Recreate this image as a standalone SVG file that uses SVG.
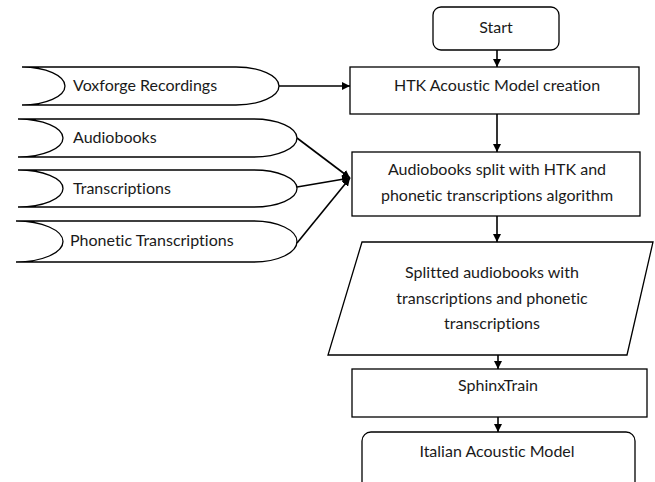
<svg xmlns="http://www.w3.org/2000/svg" width="655" height="482" viewBox="0 0 655 482">
<defs>
<style>
.s{fill:#fff;stroke:#000;stroke-width:1.3}
.t{font-family:Lato,"Liberation Sans",sans-serif;font-size:16px;fill:#1a1a1a;font-variant-ligatures:none}
.c{stroke:#000;stroke-width:1.6;fill:none}
</style>
<marker id="ah" viewBox="0 0 10 10" refX="10" refY="5" markerWidth="5" markerHeight="5" orient="auto" markerUnits="strokeWidth">
<path d="M0,0 L10,5 L0,10 z" fill="#000"/>
</marker>
</defs>
<rect width="655" height="482" fill="#fff"/>
<g id="start"><rect class="s" x="433" y="7" width="126" height="43" rx="8"/><text class="t" x="496" y="33" text-anchor="middle">Start</text></g>
<g id="htk"><rect class="s" x="350" y="67" width="289" height="47"/><text class="t" x="497" y="91" text-anchor="middle">HTK Acoustic Model creation</text></g>
<g id="split"><rect class="s" x="352" y="152" width="288" height="64"/><text class="t" x="497" y="175" text-anchor="middle">Audiobooks split with HTK and</text><text class="t" x="497" y="201" text-anchor="middle">phonetic transcriptions algorithm</text></g>
<g id="splitted"><path class="s" d="M362,242 L653,242 L627,355 L328,355 Z"/><text class="t" x="492" y="278" text-anchor="middle">Splitted audiobooks with</text><text class="t" x="492" y="304" text-anchor="middle">transcriptions and phonetic</text><text class="t" x="492" y="329" text-anchor="middle">transcriptions</text></g>
<g id="sphinx"><rect class="s" x="352" y="369" width="295" height="48"/><text class="t" x="498" y="391" text-anchor="middle">SphinxTrain</text></g>
<g id="italian"><rect class="s" x="362" y="432" width="273" height="60" rx="9"/><text class="t" x="497" y="457" text-anchor="middle">Italian Acoustic Model</text></g>
<g id="voxforge"><path class="s" d="M22,67 L236,67 A43,19 0 0 1 236,105 L22,105 A43,19 0 0 0 22,67 Z"/><text class="t" x="73" y="91">Voxforge Recordings</text></g>
<g id="audiobooks"><path class="s" d="M18,119 L254,119 A43,19 0 0 1 254,157 L18,157 A45,19 0 0 0 18,119 Z"/><text class="t" x="73" y="143">Audiobooks</text></g>
<g id="transcriptions"><path class="s" d="M18,170 L254,170 A43,18.5 0 0 1 254,207 L18,207 A45,18.5 0 0 0 18,170 Z"/><text class="t" x="73" y="194">Transcriptions</text></g>
<g id="phonetic"><path class="s" d="M16,221 L254,221 A43,20.5 0 0 1 254,262 L16,262 A47,20.5 0 0 0 16,221 Z"/><text class="t" x="70" y="246">Phonetic Transcriptions</text></g>
<g id="connectors">
<line class="c" x1="497" y1="50" x2="497" y2="67" marker-end="url(#ah)"/>
<line class="c" x1="279" y1="86" x2="350" y2="86" marker-end="url(#ah)"/>
<line class="c" x1="497" y1="114" x2="497" y2="152" marker-end="url(#ah)"/>
<line class="c" x1="297" y1="138" x2="350" y2="178" marker-end="url(#ah)"/>
<line class="c" x1="297" y1="187" x2="350" y2="178" marker-end="url(#ah)"/>
<line class="c" x1="297" y1="243" x2="350" y2="178" marker-end="url(#ah)"/>
<line class="c" x1="497" y1="216" x2="497" y2="242" marker-end="url(#ah)"/>
<line class="c" x1="498" y1="355" x2="498" y2="369" marker-end="url(#ah)"/>
<line class="c" x1="498" y1="417" x2="498" y2="432" marker-end="url(#ah)"/>
</g>
</svg>
